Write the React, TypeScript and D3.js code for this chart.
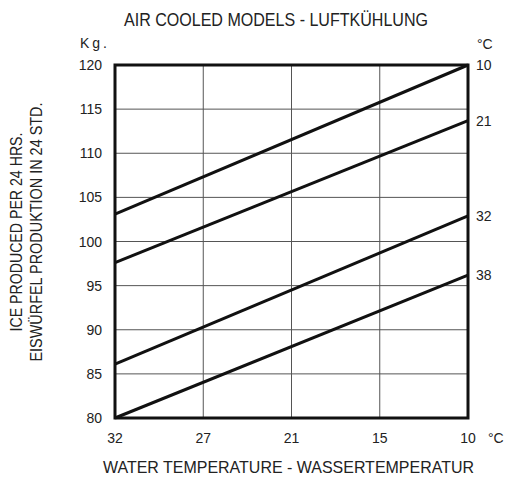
import React, { useEffect, useRef } from 'react';
import * as d3 from 'd3';

// water temperature ticks (°C), evenly spaced on the chart
const waterTemps = ['32', '27', '21', '15', '10'];
// air temperature curves (°C)
const airTemps = ['10', '21', '32', '38'];
// ice production (kg / 24h) at water 32°C and at water 10°C
const kgAtWater32 = [103.1, 97.6, 86.1, 80];
const kgAtWater10 = [120, 113.7, 102.9, 96.2];
const yTicks = [80, 85, 90, 95, 100, 105, 110, 115, 120];

const W = 508;
const H = 481;
const FONT = "'Liberation Sans', Arial, sans-serif";
const NARROW = "'Liberation Sans Narrow', 'Liberation Sans', Arial, sans-serif";
const INK = '#222';

const App = () => {
  const ref = useRef<SVGSVGElement | null>(null);

  useEffect(() => {
    const svg = d3.select(ref.current);
    svg.selectAll('*').remove();

    const left = 115;
    const right = 468;
    const top = 65;
    const bottom = 418;

    const x = d3.scalePoint().domain(waterTemps).range([left, right]);
    const y = d3.scaleLinear().domain([80, 120]).range([bottom, top]);

    // grid
    svg
      .append('g')
      .selectAll('line')
      .data(yTicks)
      .enter()
      .append('line')
      .attr('x1', left)
      .attr('x2', right)
      .attr('y1', (d) => y(d))
      .attr('y2', (d) => y(d))
      .attr('stroke', '#555')
      .attr('stroke-width', 1);

    svg
      .append('g')
      .selectAll('line')
      .data(waterTemps)
      .enter()
      .append('line')
      .attr('x1', (d) => x(d))
      .attr('x2', (d) => x(d))
      .attr('y1', top)
      .attr('y2', bottom)
      .attr('stroke', '#555')
      .attr('stroke-width', 1);

    // curves
    const line = d3
      .line<[string, number]>()
      .x((d) => x(d[0]) as number)
      .y((d) => y(d[1]));

    airTemps.forEach((t, i) => {
      const pts: [string, number][] = [
        ['32', kgAtWater32[i]],
        ['10', kgAtWater10[i]],
      ];
      svg
        .append('path')
        .attr('d', line(pts))
        .attr('fill', 'none')
        .attr('stroke', '#111')
        .attr('stroke-width', 3);

      svg
        .append('text')
        .attr('x', right + 8)
        .attr('y', y(kgAtWater10[i]))
        .attr('dy', '0.36em')
        .attr('font-family', FONT)
        .attr('font-size', 14)
        .attr('fill', INK)
        .text(t);
    });

    // frame
    svg
      .append('rect')
      .attr('x', left)
      .attr('y', top)
      .attr('width', right - left)
      .attr('height', bottom - top)
      .attr('fill', 'none')
      .attr('stroke', '#111')
      .attr('stroke-width', 3);

    // y tick labels
    svg
      .append('g')
      .selectAll('text')
      .data(yTicks)
      .enter()
      .append('text')
      .attr('x', left - 13)
      .attr('y', (d) => y(d))
      .attr('dy', '0.36em')
      .attr('text-anchor', 'end')
      .attr('font-family', FONT)
      .attr('font-size', 14)
      .attr('fill', INK)
      .text((d) => d);

    // x tick labels
    svg
      .append('g')
      .selectAll('text')
      .data(waterTemps)
      .enter()
      .append('text')
      .attr('x', (d) => x(d))
      .attr('y', bottom + 25)
      .attr('text-anchor', 'middle')
      .attr('font-family', FONT)
      .attr('font-size', 14)
      .attr('fill', INK)
      .text((d) => d);

    const label = (tx: number, ty: number, txt: string, size: number, opts: any = {}) => {
      const el = svg
        .append('text')
        .attr('x', tx)
        .attr('y', ty)
        .attr('font-family', opts.family || FONT)
        .attr('font-size', size)
        .attr('fill', INK)
        .attr('text-anchor', opts.anchor || 'start')
        .text(txt);
      if (opts.len) el.attr('textLength', opts.len).attr('lengthAdjust', 'spacingAndGlyphs');
      if (opts.spacing) el.attr('letter-spacing', opts.spacing);
      if (opts.rotate) el.attr('transform', `rotate(-90,${tx},${ty})`);
      return el;
    };

    label(488, bottom + 25, '°C', 14);
    label(477, 49, '°C', 14);
    label(80, 48, 'Kg.', 14, { spacing: 3 });

    label(276, 26, 'AIR COOLED MODELS - LUFTKÜHLUNG', 18, { family: NARROW, anchor: 'middle', len: 304 });
    label(288.5, 473, 'WATER TEMPERATURE - WASSERTEMPERATUR', 17, {
      family: NARROW,
      anchor: 'middle',
      len: 371,
    });
    label(22, 232, 'ICE PRODUCED PER 24 HRS.', 17, { family: NARROW, anchor: 'middle', len: 199, rotate: true });
    label(42, 232, 'EISWÜRFEL PRODUKTION IN 24 STD.', 17, {
      family: NARROW,
      anchor: 'middle',
      len: 259,
      rotate: true,
    });
  }, []);

  return (
    <svg
      ref={ref}
      width={W}
      height={H}
      style={{ position: 'absolute', left: 0, top: 0, background: '#fff' }}
    />
  );
};

export default App;
